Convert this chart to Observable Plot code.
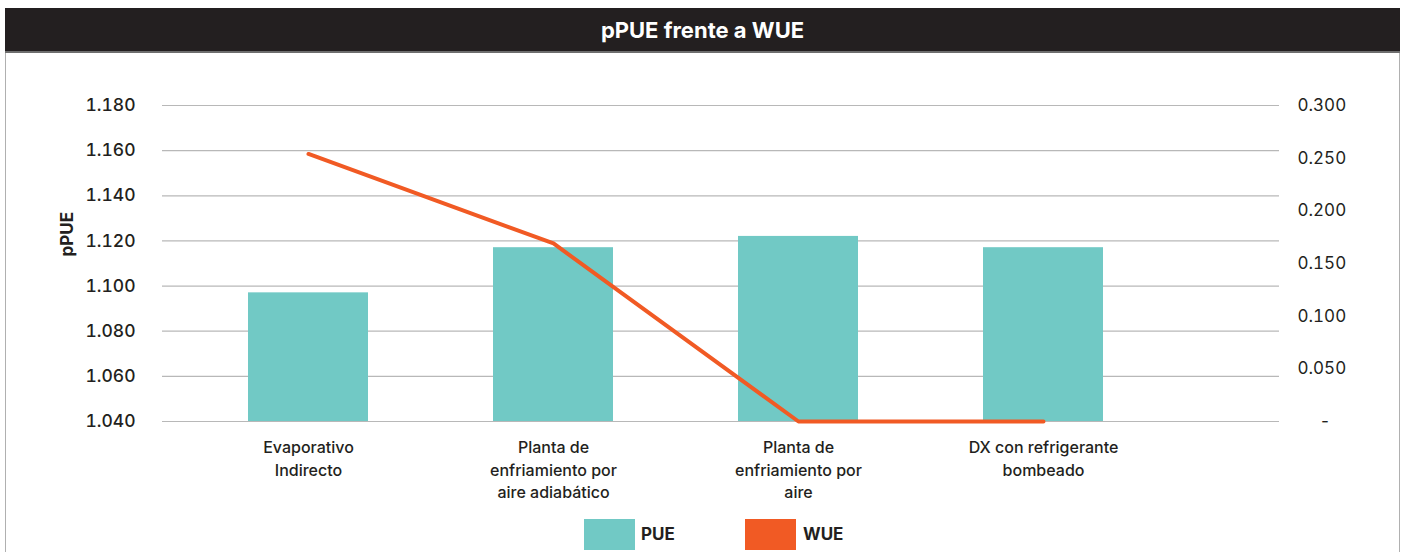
<!DOCTYPE html>
<html>
<head>
<meta charset="utf-8">
<script src="https://cdn.jsdelivr.net/npm/d3@7"></script>
<script src="https://cdn.jsdelivr.net/npm/@observablehq/plot@0.6"></script>
<style>
  body { margin: 0; background: #fff; font-family: Inter, "Noto Sans", sans-serif; color: #231f20; }
  #wrap { position: relative; width: 1402px; height: 552px; overflow: hidden; }
  #title { position: absolute; left: 5px; top: 8px; width: 1395px; height: 45px; background: #231f20; color: #fff;
           font-weight: 700; font-size: 22px; display: flex; align-items: center; justify-content: center;
           border-bottom: 2px solid #6e6e6e; box-sizing: border-box; }
  #panel { position: absolute; left: 5px; top: 52px; width: 1395px; height: 510px; border-left: 1px solid #b0b0b0;
           border-right: 1px solid #b0b0b0; box-sizing: border-box; }
  #chart { position: absolute; left: 0; top: 52px; }
  #legend { position: absolute; left: 0; top: 519px; width: 1402px; height: 32px; }
  .sw { position: absolute; top: 0; width: 51px; height: 31px; }
  .lt { position: absolute; top: 0; height: 31px; line-height: 31px; font-size: 17px; font-weight: 700; color: #231f20; }
</style>
</head>
<body>
<div id="wrap">
  <div id="panel"></div>
  <div id="title"></div>
  <div id="chart"></div>
  <div id="legend"></div>
</div>
<script>
const titleText = "pPUE frente a WUE";
const categories = ["Evaporativo Indirecto", "Planta de enfriamiento por aire adiabático", "Planta de enfriamiento por aire", "DX con refrigerante bombeado"];
const categoryLabels = ["Evaporativo\nIndirecto", "Planta de\nenfriamiento por\naire adiabático", "Planta de\nenfriamiento por\naire", "DX con refrigerante\nbombeado"];
const pueValues = [1.097, 1.117, 1.122, 1.117];
const wueValues = [0.254, 0.169, 0, 0];
const pueTicks = [1.04, 1.06, 1.08, 1.10, 1.12, 1.14, 1.16, 1.18];
const wueTicks = [0, 0.05, 0.10, 0.15, 0.20, 0.25, 0.30];
const pueDomain = [1.04, 1.18];
const wueDomain = [0, 0.30];
const seriesNames = ["PUE", "WUE"];
const seriesColors = ["#71c9c5", "#f15a24"];
const yLabel = "pPUE";

const toPue = w => pueDomain[0] + (w - wueDomain[0]) / (wueDomain[1] - wueDomain[0]) * (pueDomain[1] - pueDomain[0]);
const fromPue = v => wueDomain[0] + (v - pueDomain[0]) / (pueDomain[1] - pueDomain[0]) * (wueDomain[1] - wueDomain[0]);

const rows = categories.map((c, i) => ({cat: c, label: categoryLabels[i], pue: pueValues[i], wue: wueValues[i], wueY: toPue(wueValues[i])}));

document.getElementById("title").textContent = titleText;

const chart = Plot.plot({
  width: 1402,
  height: 460,
  marginLeft: 162,
  marginRight: 123,
  marginTop: 53,
  marginBottom: 91,
  style: {fontFamily: "Inter, 'Noto Sans', sans-serif", color: "#231f20", background: "transparent"},
  x: {domain: categories, range: [185.5, 1165.5], paddingInner: 0.51, paddingOuter: 0.255, axis: null},
  y: {domain: pueDomain, axis: null},
  marks: [
    Plot.ruleY(pueTicks, {stroke: "#b8b8b8", strokeWidth: 1.2}),
    Plot.barY(rows, {x: "cat", y1: pueDomain[0], y2: "pue", fill: seriesColors[0]}),
    Plot.line(rows, {x: "cat", y: "wueY", stroke: seriesColors[1], strokeWidth: 4}),
    Plot.axisY(pueTicks, {anchor: "left", tickSize: 0, tickPadding: 27, tickFormat: d => d.toFixed(3),
      fontSize: 17.5, fontWeight: 500, fill: "#231f20", label: null}),
    Plot.axisY(wueTicks.map(toPue), {anchor: "right", tickSize: 0, tickPadding: 18, textAnchor: "start",
      tickFormat: v => { const w = Math.round(fromPue(v) * 1000) / 1000; return w === 0 ? "\u2007\u2007-" : w.toFixed(3); },
      fontSize: 17, fontWeight: 400, fill: "#231f20", label: null}),
    Plot.text(rows, {x: "cat", text: "label", frameAnchor: "bottom", lineAnchor: "top", dy: 16, lineHeight: 1.4,
      fontSize: 16, fontWeight: 500, fill: "#231f20"}),
    Plot.text([yLabel], {text: d => d, frameAnchor: "left", dx: -95, dy: -7, rotate: -90, fontSize: 17, fontWeight: 700, fill: "#231f20"})
  ]
});
document.getElementById("chart").appendChild(chart);

const legend = document.getElementById("legend");
const legendPos = [[584, 641], [745, 803]];
seriesNames.forEach((n, i) => {
  const sw = document.createElement("div");
  sw.className = "sw"; sw.style.left = legendPos[i][0] + "px"; sw.style.background = seriesColors[i];
  const t = document.createElement("div");
  t.className = "lt"; t.style.left = legendPos[i][1] + "px"; t.textContent = n;
  legend.appendChild(sw); legend.appendChild(t);
});
</script>
</body>
</html>
